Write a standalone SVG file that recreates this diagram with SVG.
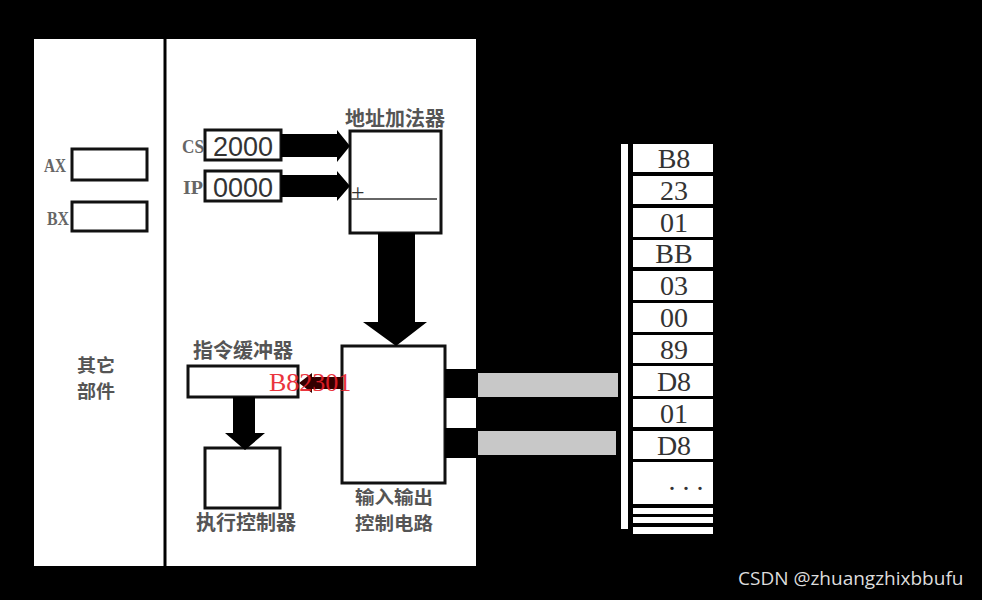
<svg xmlns="http://www.w3.org/2000/svg" width="982" height="600" viewBox="0 0 982 600">
<style>
.box{fill:#fff;stroke:#111;stroke-width:3}
.cn{font-family:"Noto Sans CJK SC","Noto Sans",sans-serif;font-size:20px;font-weight:bold;fill:#555}
.cn2{font-family:"Noto Sans CJK SC","Noto Sans",sans-serif;font-size:18px;font-weight:bold;fill:#555}
.lab{font-family:"Liberation Serif",serif;font-size:19px;font-weight:bold;fill:#666}
.val{font-family:"Liberation Sans",sans-serif;font-size:27px;fill:#333}
.mem{font-family:"Liberation Serif",serif;font-size:28px;fill:#333;text-anchor:middle}
.cell{fill:#fff}
.arr{fill:#000}
</style>
<rect x="0" y="0" width="982" height="600" fill="#000"/>
<rect x="34" y="39" width="442" height="527" fill="#fff"/>
<line x1="165" y1="39" x2="165" y2="566" stroke="#000" stroke-width="3"/>

<g id="ax"><text class="lab" x="44" y="172" textLength="22" lengthAdjust="spacingAndGlyphs">AX</text><rect class="box" x="72" y="149" width="75" height="31"/></g>
<g id="bx"><text class="lab" x="47" y="225" textLength="22" lengthAdjust="spacingAndGlyphs">BX</text><rect class="box" x="72" y="202" width="75" height="29"/></g>
<g id="other"><text class="cn2" x="77" y="372" textLength="38" lengthAdjust="spacingAndGlyphs">其它</text><text class="cn2" x="77" y="398" textLength="38" lengthAdjust="spacingAndGlyphs">部件</text></g>

<g id="cs"><text class="lab" x="182" y="153" textLength="22" lengthAdjust="spacingAndGlyphs">CS</text><rect class="box" x="205" y="130" width="76" height="30"/><text class="val" x="213" y="156">2000</text></g>
<g id="ip"><text class="lab" x="183" y="194" textLength="20" lengthAdjust="spacingAndGlyphs">IP</text><rect class="box" x="205" y="171" width="76" height="30"/><text class="val" x="213" y="197">0000</text></g>

<g id="adder"><text class="cn" x="345" y="126">地址加法器</text><rect class="box" x="350" y="131" width="91" height="102"/><line x1="351" y1="199" x2="437" y2="199" stroke="#333" stroke-width="1.5"/><text x="351" y="200" font-family="Liberation Serif,serif" font-size="24" fill="#333">+</text></g>

<g id="io"><rect class="box" x="342" y="346" width="103" height="137"/><text class="cn2" x="355" y="504" textLength="78" lengthAdjust="spacingAndGlyphs">输入输出</text><text class="cn2" x="355" y="530" textLength="78" lengthAdjust="spacingAndGlyphs">控制电路</text></g>

<g id="buffer"><text class="cn" x="193" y="358">指令缓冲器</text><rect class="box" x="188" y="366" width="110" height="31"/></g>

<g id="exec"><rect class="box" x="205" y="448" width="75" height="60"/><text class="cn" x="196" y="530">执行控制器</text></g>

<g id="connectors">
<polygon class="arr" points="281,134 337,134 337,130 350,146 337,162 337,157 281,157"/>
<polygon class="arr" points="281,175 337,175 337,171 350,186 337,201 337,197 281,197"/>
<polygon class="arr" points="378,233 415,233 415,322 427,322 396,346 363,322 378,322"/>
<polygon class="arr" points="233,397 255,397 255,433 265,433 245,450 225,433 233,433"/>
<polygon fill="#300" points="343,377 312,377 312,373 299,383 312,393 312,389 343,389"/>
<rect x="445" y="369" width="31" height="29" fill="#000"/>
<rect x="445" y="428" width="31" height="30" fill="#000"/>
<rect x="478" y="373" width="140" height="24" fill="#c8c8c8"/>
<rect x="478" y="431" width="138" height="24" fill="#c8c8c8"/>
</g>
<text x="269" y="391" font-family="Liberation Serif,serif" font-size="26" fill="#e8202a" opacity="0.9">B82301</text>

<g id="memory">
<rect x="621" y="144" width="7" height="385" fill="#fff"/>
<rect class="cell" x="633" y="144" width="80" height="28"/><text class="mem" x="674" y="168">B8</text>
<rect class="cell" x="633" y="176" width="80" height="28"/><text class="mem" x="674" y="200">23</text>
<rect class="cell" x="633" y="208" width="80" height="29"/><text class="mem" x="674" y="232">01</text>
<rect class="cell" x="633" y="240" width="80" height="27"/><text class="mem" x="674" y="263">BB</text>
<rect class="cell" x="633" y="271" width="80" height="29"/><text class="mem" x="674" y="295">03</text>
<rect class="cell" x="633" y="303" width="80" height="29"/><text class="mem" x="674" y="327">00</text>
<rect class="cell" x="633" y="335" width="80" height="28"/><text class="mem" x="674" y="359">89</text>
<rect class="cell" x="633" y="366" width="80" height="30"/><text class="mem" x="674" y="391">D8</text>
<rect class="cell" x="633" y="399" width="80" height="28"/><text class="mem" x="674" y="423">01</text>
<rect class="cell" x="633" y="431" width="80" height="28"/><text class="mem" x="674" y="455">D8</text>
<rect class="cell" x="633" y="462" width="80" height="42"/><text class="mem" x="686" y="490" font-size="18" fill="#888">. . .</text>
<rect class="cell" x="633" y="508" width="80" height="6"/>
<rect class="cell" x="633" y="517" width="80" height="6"/>
<rect class="cell" x="633" y="527" width="80" height="7"/>
</g>

<text x="738" y="585" font-family="Open Sans,sans-serif" font-size="19" fill="#ddd">CSDN @zhuangzhixbbufu</text>
</svg>
